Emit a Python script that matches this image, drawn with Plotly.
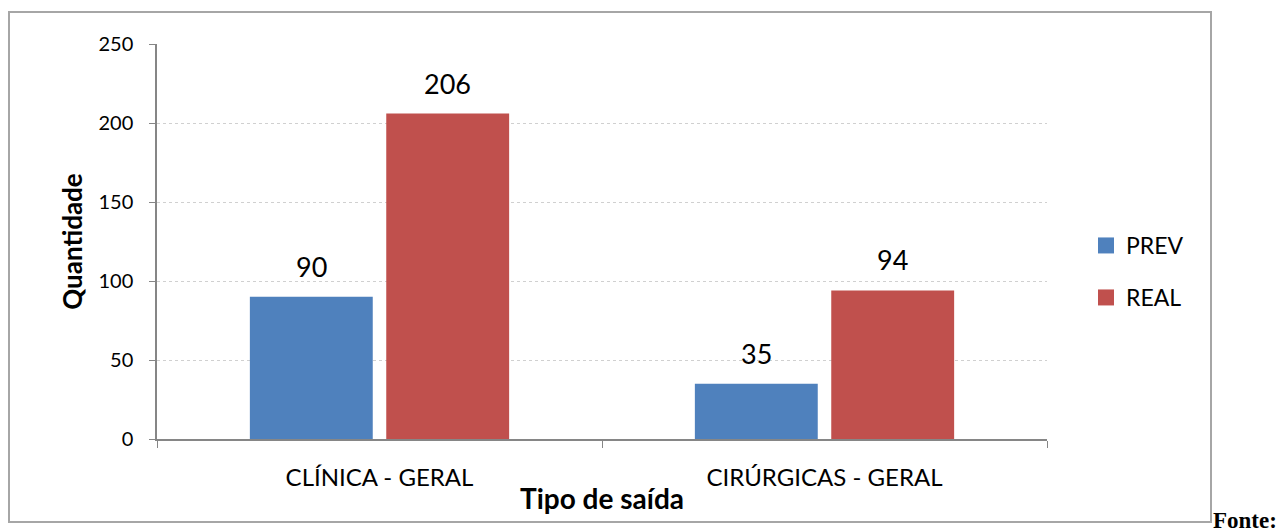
import plotly.graph_objects as go

categories = ["CLÍNICA - GERAL", "CIRÚRGICAS - GERAL"]
prev_values = [90, 35]
real_values = [206, 94]
y_ticks = [0, 50, 100, 150, 200, 250]

PREV_COLOR = "#4F81BD"
REAL_COLOR = "#C0504D"
FONT = "Lato"
AXIS_COLOR = "#868686"

W, H = 1281, 532
L, R, T, B = 157, 234, 44, 93
pw, ph = W - L - R, H - T - B


def px(x):
    return (x - L) / pw


def py(y):
    return (H - B - y) / ph


BARGAP, BARGROUPGAP = 0.387, 0.099
slot = (1 - BARGAP) / 2

fig = go.Figure()
fig.add_trace(go.Bar(name="PREV", x=categories, y=prev_values, marker_color=PREV_COLOR,
                     marker_line_width=0, showlegend=False))
fig.add_trace(go.Bar(name="REAL", x=categories, y=real_values, marker_color=REAL_COLOR,
                     marker_line_width=0, showlegend=False))

# legend entries (square markers) in two separate legends for spacing
fig.add_trace(go.Scatter(name="PREV", x=[None], y=[None], mode="markers",
                         marker=dict(symbol="square", size=16, color=PREV_COLOR),
                         legend="legend", showlegend=True))
fig.add_trace(go.Scatter(name="REAL", x=[None], y=[None], mode="markers",
                         marker=dict(symbol="square", size=16, color=REAL_COLOR),
                         legend="legend2", showlegend=True))

# value labels above bars
for vals, sign in ((prev_values, -1), (real_values, 1)):
    for i, v in enumerate(vals):
        fig.add_annotation(x=i + sign * slot / 2, y=v, xref="x", yref="y",
                           text=str(v), showarrow=False, yanchor="bottom", yshift=12,
                           font=dict(family=FONT, size=27, color="black"))

fig.add_shape(type="rect", xref="paper", yref="paper",
              x0=px(9), x1=px(1211), y0=py(522), y1=py(12),
              line=dict(color="#A6A6A6", width=2), fillcolor="rgba(0,0,0,0)", layer="below")

fig.add_annotation(text="<b>Fonte:</b>", xref="paper", yref="paper", x=px(1211), y=py(520),
                   xanchor="left", yanchor="middle", showarrow=False,
                   font=dict(family="Liberation Serif", size=23, color="black"))

legend_common = dict(xanchor="left", yanchor="middle", bgcolor="rgba(0,0,0,0)",
                     font=dict(family=FONT, size=23, color="black"),
                     itemsizing="trace", itemwidth=30)

fig.update_layout(
    width=W, height=H,
    margin=dict(l=L, r=R, t=T, b=B, autoexpand=False),
    plot_bgcolor="white", paper_bgcolor="white",
    barmode="group", bargap=BARGAP, bargroupgap=BARGROUPGAP,
    font=dict(family=FONT, color="black"),
    legend=dict(x=px(1086), y=py(245.5), **legend_common),
    legend2=dict(x=px(1086), y=py(297.5), **legend_common),
    showlegend=True,
)
fig.update_xaxes(
    showline=True, linecolor=AXIS_COLOR, linewidth=1.5,
    ticks="outside", tickson="boundaries", ticklen=7, tickcolor=AXIS_COLOR,
    tickfont=dict(family=FONT, size=24, color="black"),
    ticklabelstandoff=16,
    title=dict(text="<b>Tipo de saída</b>", font=dict(family=FONT, size=28, color="black"), standoff=0),
)
fig.update_yaxes(
    range=[0, 250], tickvals=y_ticks,
    showline=True, linecolor=AXIS_COLOR, linewidth=1.5,
    ticks="outside", ticklen=6, tickcolor=AXIS_COLOR,
    showgrid=True, gridcolor="#D0D0D0", griddash="dot", gridwidth=1,
    tickfont=dict(family=FONT, size=20, color="black"),
    ticklabelstandoff=12,
    title=dict(text="<b>Quantidade</b>", font=dict(family=FONT, size=26, color="black"), standoff=8),
    zeroline=False,
)

fig.write_html("out.html", config={"displayModeBar": False},
               post_script="document.body.style.margin='0';")
